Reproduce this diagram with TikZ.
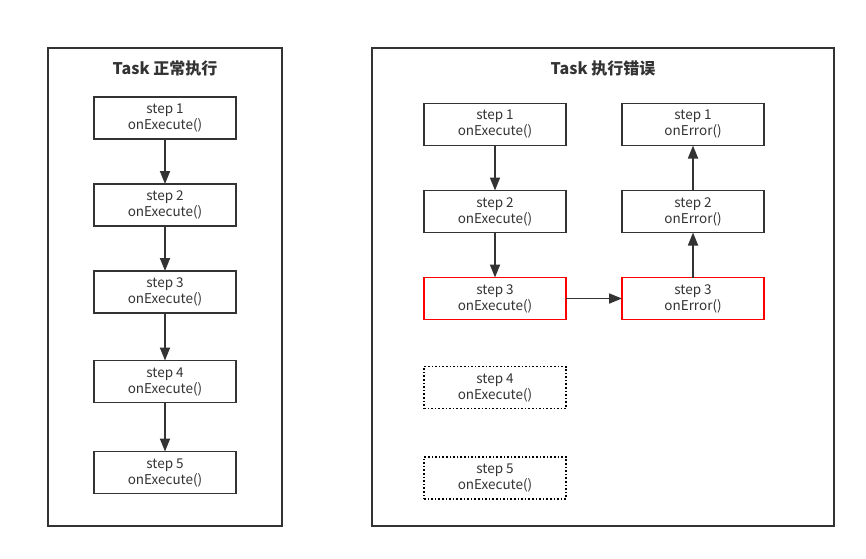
\documentclass[tikz,border=0pt]{standalone}
\usepackage{fontspec}
\setmainfont{Noto Sans CJK SC}
\usetikzlibrary{arrows.meta,positioning}
\definecolor{Line}{HTML}{333333}
\definecolor{Fail}{HTML}{FF0000}

\begin{document}
\begin{tikzpicture}[
    x=1pt, y=-1pt,
    frame/.style={draw=Line, line width=1.6pt, rectangle, outer sep=0pt},
    title/.style={font={\fontsize{16}{19}\selectfont\bfseries}},
    stepbox/.style={draw=Line, line width=1.8pt, rectangle, minimum width=142pt, minimum height=42pt, align=center, inner sep=0pt, outer sep=0pt},
    failbox/.style={stepbox, draw=Fail},
    skipbox/.style={stepbox, draw=black, dash pattern=on 1.6pt off 2pt},
    flow/.style={-{Triangle[length=13pt,width=10pt]}, draw=Line, line width=1.8pt},
    every node/.style={font={\fontsize{13.5}{16}\selectfont}, text=Line}
  ]

  \useasboundingbox (0,0) rectangle (866,558);

  % normal run
  \node[frame, minimum width=234pt, minimum height=478pt] (normal) at (165,287) {};
  \node[title] (normaltitle) at (165,68) {Task 正常执行};

  \node[stepbox] (n1) at (165,118) {step 1\\onExecute()};
  \node[stepbox, below=45pt of n1] (n2) {step 2\\onExecute()};
  \node[stepbox, below=45pt of n2] (n3) {step 3\\onExecute()};
  \node[stepbox, below=47.5pt of n3] (n4) {step 4\\onExecute()};
  \node[stepbox, below=49pt of n4] (n5) {step 5\\onExecute()};

  \draw[flow] (n1) -- (n2);
  \draw[flow] (n2) -- (n3);
  \draw[flow] (n3) -- (n4);
  \draw[flow] (n4) -- (n5);

  % run with error
  \node[frame, minimum width=462pt, minimum height=478pt] (error) at (603,287) {};
  \node[title] (errortitle) at (603,68) {Task 执行错误};

  \node[stepbox] (e1) at (495,124.5) {step 1\\onExecute()};
  \node[stepbox, below=45pt of e1] (e2) {step 2\\onExecute()};
  \node[failbox, below=45pt of e2] (e3) {step 3\\onExecute()};
  \node[skipbox, below=47pt of e3] (e4) {step 4\\onExecute()};
  \node[skipbox, below=48.5pt of e4] (e5) {step 5\\onExecute()};

  \node[failbox, right=56pt of e3] (r3) {step 3\\onError()};
  \node[stepbox, above=45pt of r3] (r2) {step 2\\onError()};
  \node[stepbox, above=45pt of r2] (r1) {step 1\\onError()};

  \draw[flow] (e1) -- (e2);
  \draw[flow] (e2) -- (e3);
  \draw[flow] (e3) -- (r3);
  \draw[flow] (r3) -- (r2);
  \draw[flow] (r2) -- (r1);
\end{tikzpicture}
\end{document}
